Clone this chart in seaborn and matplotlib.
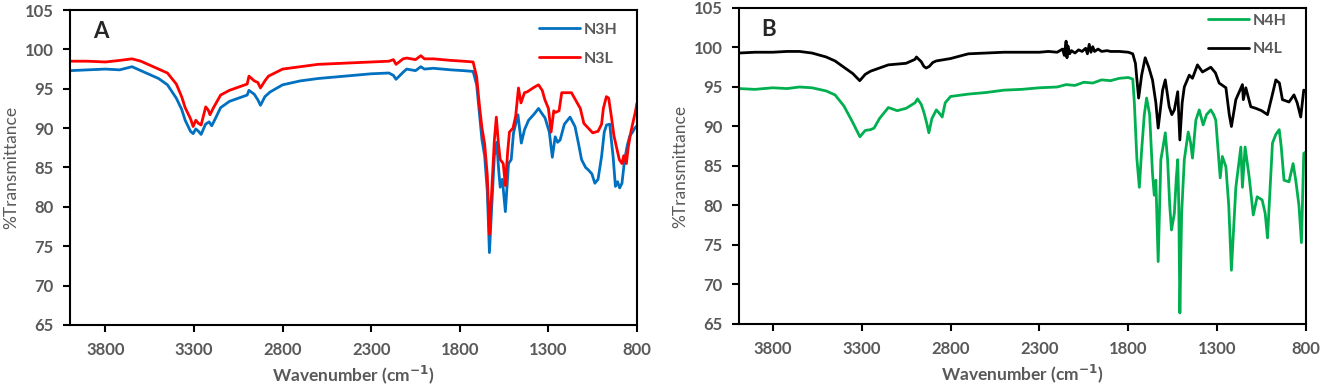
import numpy as np
import pandas as pd
import matplotlib.pyplot as plt
import seaborn as sns

# ---- panel A ----
n3h_wn = [4000, 3900, 3800, 3720, 3650, 3600, 3550, 3500, 3450, 3400, 3370, 3350, 3320, 3305, 3290, 3275, 3260,
          3235, 3215, 3200, 3180, 3150, 3100, 3050, 3000, 2990, 2960, 2940, 2925, 2900, 2870, 2800, 2700,
          2600, 2500, 2400, 2300, 2200, 2175, 2160, 2120, 2100, 2050, 2020, 2000, 1950, 1900, 1850, 1780,
          1725, 1705, 1690, 1675, 1660, 1645, 1633, 1620, 1605, 1592, 1580, 1572, 1560, 1543, 1525, 1510,
          1497, 1485, 1472, 1453, 1435, 1412, 1380, 1356, 1335, 1319, 1295, 1278, 1262, 1248, 1234, 1210,
          1178, 1150, 1130, 1113, 1090, 1075, 1055, 1038, 1020, 1000, 985, 972, 954, 945, 935, 922, 910,
          898, 885, 870, 855, 841, 825, 813, 800]
n3h_val = [97.3, 97.4, 97.5, 97.4, 97.8, 97.3, 96.8, 96.3, 95.5, 93.8, 92.4, 91.0, 89.6, 89.3, 89.9, 89.6, 89.2,
           90.5, 90.8, 90.3, 91.2, 92.6, 93.4, 93.8, 94.2, 94.8, 94.3, 93.6, 92.9, 94.0, 94.6, 95.5, 96.0,
           96.3, 96.5, 96.7, 96.9, 97.0, 96.7, 96.2, 97.1, 97.5, 97.3, 97.8, 97.5, 97.6, 97.5, 97.4, 97.3,
           97.2, 95.5, 92.0, 88.5, 86.5, 82.0, 74.2, 80.0, 86.5, 88.2, 84.5, 82.5, 83.5, 79.4, 85.5, 86.0,
           89.4, 90.5, 91.7, 88.1, 89.8, 91.0, 91.8, 92.5, 91.8, 91.3, 89.5, 86.3, 88.9, 88.2, 88.5, 90.5,
           91.4, 90.2, 88.0, 86.0, 85.0, 84.7, 84.2, 83.0, 83.5, 86.4, 89.5, 90.4, 90.5, 88.5, 86.4, 82.6, 83.2,
           82.4, 83.0, 86.0, 87.8, 89.0, 89.5, 90.0, 90.3]

n3l_wn = [4000, 3900, 3800, 3720, 3650, 3600, 3550, 3500, 3450, 3400, 3370, 3350, 3320, 3305, 3290, 3275, 3260,
          3234, 3220, 3210, 3190, 3150, 3100, 3050, 3000, 2990, 2960, 2940, 2925, 2900, 2880, 2800, 2700,
          2600, 2500, 2400, 2300, 2200, 2175, 2160, 2120, 2100, 2050, 2020, 2000, 1950, 1900, 1850, 1780,
          1725, 1705, 1690, 1675, 1660, 1645, 1633, 1620, 1605, 1594, 1582, 1572, 1555, 1543, 1530, 1520,
          1500, 1485, 1469, 1455, 1435, 1420, 1380, 1356, 1335, 1320, 1300, 1285, 1270, 1260, 1240, 1225,
          1200, 1170, 1140, 1120, 1100, 1075, 1050, 1020, 1000, 990, 973, 960, 945, 930, 915, 900, 885,
          875, 860, 850, 835, 820, 810, 800]
n3l_val = [98.5, 98.5, 98.4, 98.6, 98.8, 98.5, 98.0, 97.5, 97.0, 95.6, 94.0, 92.6, 91.2, 90.2, 91.0, 90.6, 90.4,
           92.7, 92.3, 91.7, 92.6, 94.2, 94.8, 95.2, 95.6, 96.6, 96.0, 95.8, 95.1, 96.0, 96.6, 97.5, 97.8,
           98.1, 98.2, 98.3, 98.4, 98.5, 98.7, 98.1, 98.8, 98.9, 98.7, 99.2, 98.8, 98.8, 98.7, 98.6, 98.5,
           98.4, 96.5, 93.0, 90.0, 88.0, 84.0, 76.5, 82.0, 88.5, 91.4, 88.0, 86.0, 85.5, 82.7, 87.0, 89.5,
           90.0, 91.5, 95.1, 93.2, 94.5, 94.6, 95.2, 95.5, 94.8, 93.6, 92.5, 89.5, 92.2, 92.0, 92.2, 94.5,
           94.5, 94.5, 93.3, 92.5, 90.6, 90.0, 89.4, 89.6, 90.5, 92.5, 94.0, 93.8, 91.5, 89.0, 87.5, 86.0, 85.5,
           86.5, 85.5, 87.5, 89.5, 91.0, 92.0, 93.2]

# ---- panel B ----
n4h_wn = [3990, 3900, 3800, 3720, 3650, 3580, 3500, 3450, 3400, 3350, 3310, 3280, 3250, 3230, 3200, 3150,
          3100, 3050, 3000, 2986, 2965, 2950, 2935, 2922, 2905, 2880, 2860, 2847, 2830, 2800, 2700, 2600,
          2500, 2400, 2300, 2200, 2150, 2100, 2050, 2000, 1950, 1900, 1850, 1800, 1775, 1766, 1752, 1738,
          1725, 1710, 1697, 1680, 1664, 1654, 1645, 1632, 1617, 1604, 1592, 1579, 1567, 1557, 1541, 1530,
          1522, 1516, 1510, 1500, 1485, 1463, 1450, 1439, 1420, 1401, 1379, 1360, 1336, 1320, 1308, 1283,
          1271, 1251, 1235, 1220, 1195, 1167, 1158, 1143, 1120, 1097, 1075, 1047, 1030, 1017, 989, 970,
          951, 940, 924, 896, 873, 858, 840, 826, 813, 800]
n4h_val = [94.8, 94.7, 94.9, 94.8, 95.0, 94.9, 94.5, 94.0, 92.6, 90.5, 88.7, 89.5, 89.6, 89.8, 91.0, 92.4,
           92.0, 92.3, 93.0, 93.5, 92.8, 91.8, 90.5, 89.2, 91.0, 92.1, 91.6, 91.2, 93.0, 93.8, 94.1, 94.3,
           94.6, 94.7, 94.9, 95.0, 95.3, 95.2, 95.6, 95.5, 95.9, 95.8, 96.1, 96.2, 96.0, 93.0, 86.0, 82.3,
           87.0, 91.5, 93.6, 91.5, 84.1, 81.3, 83.2, 72.9, 85.8, 87.5, 89.2, 85.8, 80.0, 76.9, 79.0, 83.5,
           85.8, 80.0, 66.4, 79.0, 85.8, 89.3, 88.0, 86.0, 90.8, 92.1, 90.2, 91.5, 92.1, 91.5, 90.8, 83.5,
           86.2, 84.9, 80.0, 71.8, 82.3, 87.4, 82.3, 87.4, 83.6, 78.8, 81.1, 80.7, 79.0, 75.9, 87.9, 89.0,
           89.6, 87.5, 83.2, 83.0, 85.3, 83.2, 80.0, 75.3, 86.6, 86.8]

n4l_wn = [3990, 3900, 3800, 3720, 3650, 3580, 3500, 3450, 3400, 3350, 3311, 3280, 3250, 3200, 3150, 3100,
          3050, 3000, 2992, 2965, 2950, 2937, 2920, 2900, 2880, 2800, 2700, 2600, 2500, 2400, 2300, 2250,
          2200, 2170, 2160, 2150, 2145, 2140, 2130, 2120, 2100, 2080, 2060, 2040, 2030, 2020, 2010, 2000,
          1990, 1970, 1950, 1920, 1900, 1850, 1800, 1775, 1760, 1742, 1725, 1705, 1685, 1664, 1645, 1632,
          1607, 1592, 1570, 1555, 1541, 1522, 1510, 1497, 1485, 1457, 1439, 1411, 1383, 1336, 1310, 1289,
          1251, 1232, 1220, 1195, 1158, 1153, 1139, 1111, 1083, 1050, 1017, 990, 970, 950, 933, 896,
          868, 850, 830, 813, 800]
n4l_val = [99.3, 99.4, 99.4, 99.5, 99.5, 99.3, 98.8, 98.3, 97.5, 96.7, 95.8, 96.6, 97.0, 97.4, 97.8, 97.9,
           98.0, 98.5, 98.8, 98.2, 97.6, 97.4, 97.6, 98.1, 98.3, 98.6, 99.2, 99.3, 99.4, 99.4, 99.4, 99.5,
           99.4, 99.8, 99.0, 100.8, 98.7, 100.2, 99.2, 99.6, 99.3, 99.7, 99.5, 99.9, 99.2, 100.4, 99.4, 100.1,
           99.5, 99.8, 99.5, 99.6, 99.5, 99.5, 99.4, 99.2, 98.0, 93.6, 96.5, 98.7, 97.5, 95.9, 93.0, 89.8,
           94.6, 95.9, 92.5, 91.5, 92.1, 94.4, 88.3, 93.0, 95.0, 96.5, 96.1, 97.8, 96.9, 97.5, 96.8, 95.5,
           94.9, 91.5, 90.0, 93.4, 95.3, 93.4, 94.9, 92.5, 92.3, 92.0, 91.5, 94.0, 95.9, 95.5, 93.4, 93.1,
           94.0, 93.0, 91.2, 94.6, 94.5]

sns.set_style("ticks")
plt.rcParams['font.family'] = ['Lato', 'DejaVu Sans']

gray = '#595959'
panels = [
    ('A', [('N3H', n3h_wn, n3h_val, '#0070C0'), ('N3L', n3l_wn, n3l_val, '#FF0000')],
     [0.0529, 0.1624, 0.4286, 0.8118], 4000, 0.995),
    ('B', [('N4H', n4h_wn, n4h_val, '#00B050'), ('N4L', n4l_wn, n4l_val, '#000000')],
     [0.5586, 0.1650, 0.4286, 0.8144], 3990, 1.018),
]

fig = plt.figure(figsize=(13.23, 3.88), dpi=100)
for letter, series, rect, xmax, legy in panels:
    ax = fig.add_axes(rect)
    for name, wn, val, col in series:
        df = pd.DataFrame({'wn': wn, 'T': val})
        sns.lineplot(data=df, x='wn', y='T', ax=ax, color=col, lw=2, label=name, sort=False)
    ax.set_xlim(xmax, 800)
    ax.set_ylim(65, 105)
    ax.set_xticks([3800, 3300, 2800, 2300, 1800, 1300, 800])
    ax.set_yticks(np.arange(65, 106, 5))
    ax.tick_params(labelsize=12, colors='black', labelcolor=gray, width=1.5, length=5, pad=7)
    for lab in ax.get_xticklabels() + ax.get_yticklabels():
        lab.set_fontweight('bold')
    for sp in ax.spines.values():
        sp.set_color('black')
        sp.set_linewidth(1.5)
    ax.set_xlabel('Wavenumber (cm$^{\\mathbf{-1}}$)', fontsize=12.5, fontweight='bold', color=gray, labelpad=4)
    ax.set_ylabel('%Transmittance', fontsize=12.5, color=gray, labelpad=4)
    ax.text(0.04, 0.965, letter, transform=ax.transAxes, fontsize=16, fontweight='bold', va='top', ha='left')
    leg = ax.legend(loc='upper right', bbox_to_anchor=(0.985, legy), frameon=False, fontsize=11.5,
                    handlelength=2.6, handletextpad=0.2, borderaxespad=0.3, labelspacing=0.9)
    for t in leg.get_texts():
        t.set_color(gray)
        t.set_fontweight('bold')

fig.savefig('out.png', dpi=100)
